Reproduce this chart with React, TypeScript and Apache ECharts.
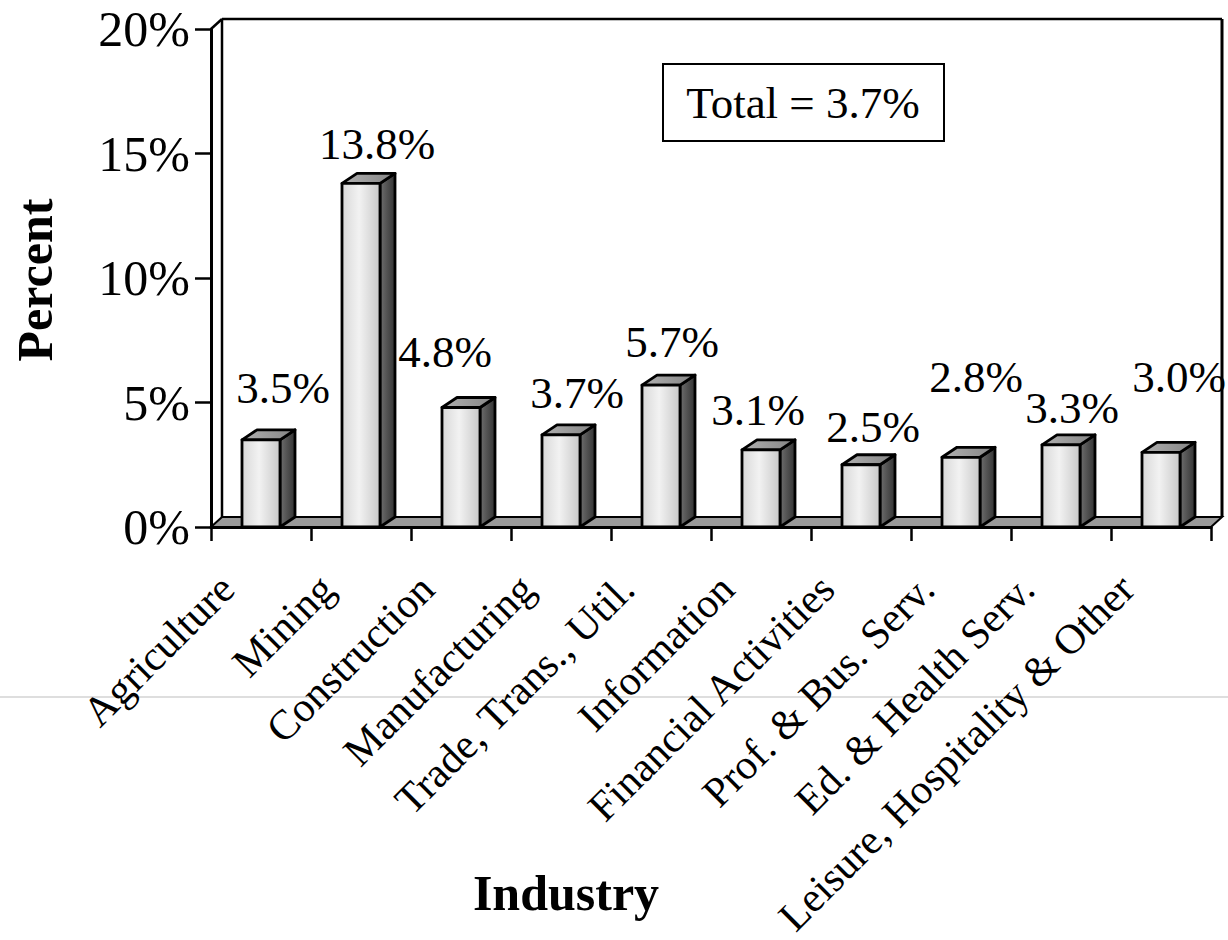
import React, { useEffect, useRef } from "react";
import * as echarts from "echarts";

// Share of each industry, in percent
const categories = [
  "Agriculture",
  "Mining",
  "Construction",
  "Manufacturing",
  "Trade, Trans., Util.",
  "Information",
  "Financial Activities",
  "Prof. & Bus. Serv.",
  "Ed. & Health Serv.",
  "Leisure, Hospitality & Other",
];
const shares = [3.5, 13.8, 4.8, 3.7, 5.7, 3.1, 2.5, 2.8, 3.3, 3.0];
const totalShare = 3.7;

const Y_MIN = 0;
const Y_MAX = 20;
const Y_STEP = 5;

// Value-label nudges (px) from the top centre of each bar
const LABEL_DX = [22, 16, -16, 16, 11, -3, 12, 15, 11, 18];
const LABEL_DY = [-52, -39, -55, -42, -43, -40, -38, -80, -37, -75];

const SERIF = '"Liberation Serif", "Times New Roman", serif';
const WALL_DEPTH = { dx: 11, dy: -10 };
const BAR_DEPTH = { dx: 15, dy: -10 };
const BAR_HALF = 19;

export default function App() {
  const ref = useRef<HTMLDivElement>(null);

  useEffect(() => {
    if (!ref.current) return;
    const chart = echarts.init(ref.current, undefined, { renderer: "svg" });

    const frontFill = new echarts.graphic.LinearGradient(0, 0, 1, 0, [
      { offset: 0, color: "#d8d8d8" },
      { offset: 0.45, color: "#f2f2f2" },
      { offset: 1, color: "#c8c8c8" },
    ]);
    const sideFill = new echarts.graphic.LinearGradient(0, 0, 1, 0, [
      { offset: 0, color: "#6e6e6e" },
      { offset: 1, color: "#333333" },
    ]);
    const topFill = new echarts.graphic.LinearGradient(0, 0, 1, 0, [
      { offset: 0, color: "#b0b0b0" },
      { offset: 1, color: "#858585" },
    ]);

    const option: any = {
      animation: false,
      backgroundColor: "#ffffff",
      grid: {
        left: 211,
        right: 17,
        top: 29,
        bottom: 413,
        containLabel: false,
        outerBoundsMode: "none",
      },
      xAxis: {
        type: "category",
        data: categories,
        axisLine: { show: true, lineStyle: { color: "#000", width: 3 } },
        axisTick: { show: true, length: 14, lineStyle: { color: "#000", width: 2.5 } },
        axisLabel: {
          interval: 0,
          rotate: 45,
          margin: 21,
          padding: [0, 48, 0, 0],
          color: "#000",
          fontSize: 42,
          fontFamily: SERIF,
        },
        splitLine: { show: false },
      },
      yAxis: {
        type: "value",
        min: Y_MIN,
        max: Y_MAX,
        interval: Y_STEP,
        axisLine: { show: true, lineStyle: { color: "#000", width: 3 } },
        axisTick: { show: true, length: 16, lineStyle: { color: "#000", width: 2.5 } },
        axisLabel: {
          formatter: "{value}%",
          margin: 21,
          color: "#000",
          fontSize: 50,
          fontFamily: SERIF,
        },
        splitLine: { show: false },
      },
      series: [
        {
          // back walls and floor of the 3-D box
          type: "custom",
          silent: true,
          z: 1,
          data: [[0, 0]],
          renderItem: (params: any) => {
            const cs = params.coordSys;
            const x0 = cs.x;
            const y0 = cs.y;
            const x1 = cs.x + cs.width;
            const y1 = cs.y + cs.height;
            const { dx, dy } = WALL_DEPTH;
            const edge = { stroke: "#000", lineWidth: 2.5 };
            return {
              type: "group",
              children: [
                {
                  type: "polygon",
                  shape: { points: [[x0, y1], [x0 + dx, y1 + dy], [x1 + dx, y1 + dy], [x1, y1]] },
                  style: { fill: "#9a9a9a", stroke: "#000", lineWidth: 2 },
                },
                { type: "line", shape: { x1: x0 + dx, y1: y0 + dy, x2: x0 + dx, y2: y1 + dy }, style: edge },
                { type: "line", shape: { x1: x0, y1: y0, x2: x0 + dx, y2: y0 + dy }, style: edge },
                { type: "line", shape: { x1: x0 + dx, y1: y0 + dy, x2: x1 + dx, y2: y0 + dy }, style: edge },
                { type: "line", shape: { x1: x1 + dx, y1: y0 + dy, x2: x1 + dx, y2: y1 + dy }, style: { stroke: "#000", lineWidth: 3 } },
              ],
            };
          },
        },
        {
          // 3-D bars with their value labels
          type: "custom",
          z: 3,
          data: shares.map((v, i) => [i, v]),
          renderItem: (params: any, api: any) => {
            const i = params.dataIndex;
            const v = api.value(1);
            const topPt = api.coord([api.value(0), v]);
            const basePt = api.coord([api.value(0), 0]);
            const cx = topPt[0];
            const left = cx - BAR_HALF;
            const right = cx + BAR_HALF;
            const top = topPt[1];
            const base = basePt[1];
            const { dx, dy } = BAR_DEPTH;
            const outline = { stroke: "#000", lineWidth: 2.8, lineJoin: "round" };
            return {
              type: "group",
              children: [
                {
                  type: "polygon",
                  shape: { points: [[right, top], [right + dx, top + dy], [right + dx, base + dy], [right, base]] },
                  style: { fill: sideFill, ...outline },
                },
                {
                  type: "polygon",
                  shape: { points: [[left, top], [left + dx, top + dy], [right + dx, top + dy], [right, top]] },
                  style: { fill: topFill, ...outline },
                },
                {
                  type: "rect",
                  shape: { x: left, y: top, width: right - left, height: base - top },
                  style: { fill: frontFill, ...outline },
                },
                {
                  type: "text",
                  x: cx + LABEL_DX[i],
                  y: top + LABEL_DY[i],
                  style: {
                    text: v.toFixed(1) + "%",
                    font: "45px " + SERIF,
                    fill: "#000",
                    align: "center",
                    verticalAlign: "middle",
                    textAlign: "center",
                    textVerticalAlign: "middle",
                  },
                },
              ],
            };
          },
        },
      ],
      graphic: [
        {
          type: "line",
          silent: true,
          z: 0,
          shape: { x1: 0, y1: 697, x2: 1228, y2: 697 },
          style: { stroke: "#bdbdbd", lineWidth: 1 },
        },
        {
          type: "text",
          x: 35,
          y: 280,
          rotation: Math.PI / 2,
          style: {
            text: "Percent",
            font: "bold 50px " + SERIF,
            fill: "#000",
            align: "center",
            verticalAlign: "middle",
            textAlign: "center",
            textVerticalAlign: "middle",
          },
        },
        {
          type: "text",
          x: 566,
          y: 893,
          style: {
            text: "Industry",
            font: "bold 50px " + SERIF,
            fill: "#000",
            align: "center",
            verticalAlign: "middle",
            textAlign: "center",
            textVerticalAlign: "middle",
          },
        },
        {
          type: "rect",
          z: 10,
          shape: { x: 663, y: 64, width: 281, height: 77 },
          style: { fill: "#fff", stroke: "#000", lineWidth: 2 },
        },
        {
          type: "text",
          z: 11,
          x: 803,
          y: 103,
          style: {
            text: "Total = " + totalShare.toFixed(1) + "%",
            font: "45px " + SERIF,
            fill: "#000",
            align: "center",
            verticalAlign: "middle",
            textAlign: "center",
            textVerticalAlign: "middle",
          },
        },
      ],
    };

    chart.setOption(option);
    return () => chart.dispose();
  }, []);

  return (
    <div
      ref={ref}
      style={{ position: "absolute", left: 0, top: 0, width: 1228, height: 940, background: "#fff" }}
    />
  );
}
